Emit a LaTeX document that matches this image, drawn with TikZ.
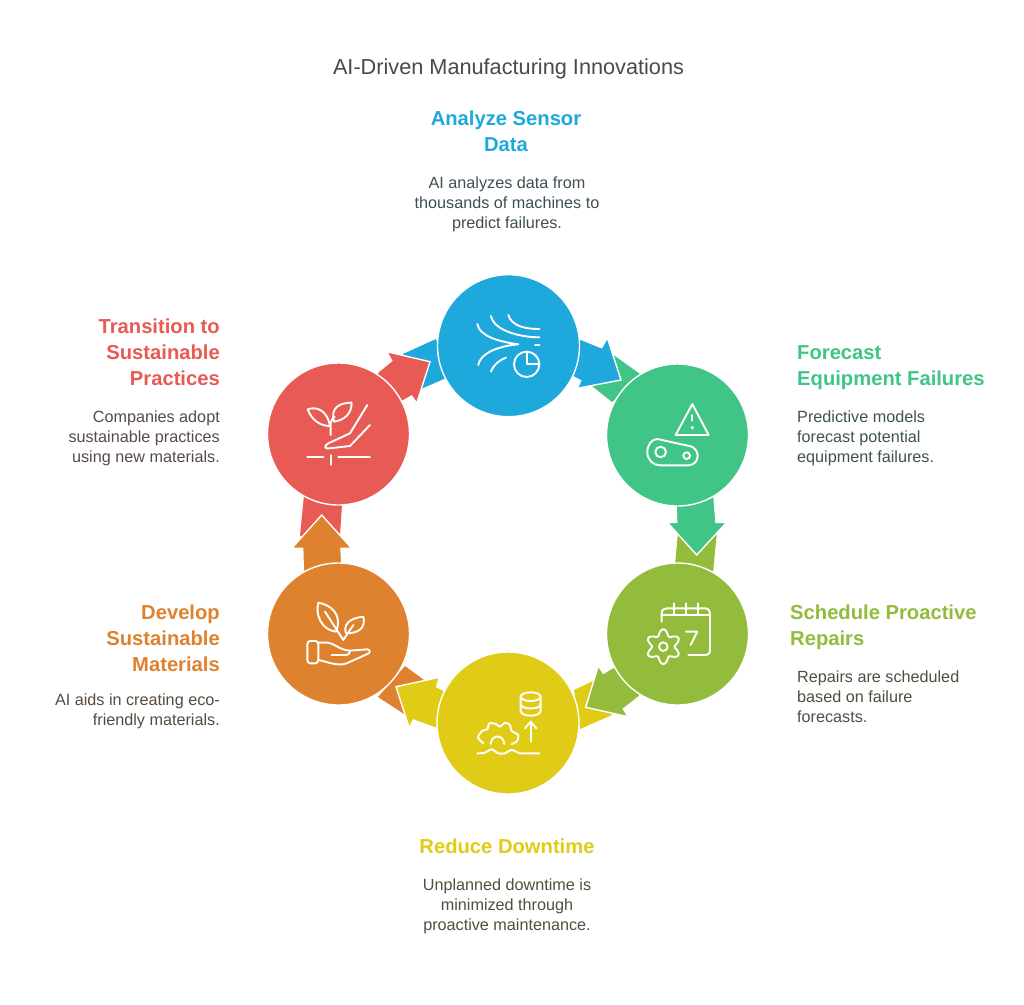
\documentclass[tikz,border=0pt]{standalone}
\usepackage{fontspec}
\setmainfont{Liberation Sans}
\definecolor{cblue}{HTML}{1EA8DC}
\definecolor{cgreen}{HTML}{40C586}
\definecolor{colive}{HTML}{93BB3C}
\definecolor{cyellow}{HTML}{E0CC16}
\definecolor{corange}{HTML}{DF822F}
\definecolor{cred}{HTML}{E85A54}
\definecolor{ctitle}{HTML}{4A4A4A}
\definecolor{tblue}{HTML}{3F4F55}
\definecolor{tgreen}{HTML}{3F5549}
\definecolor{tolive}{HTML}{4C5140}
\definecolor{tyellow}{HTML}{51503A}
\definecolor{torange}{HTML}{574B40}
\definecolor{tred}{HTML}{584A48}
\tikzset{
  hub/.style={circle,minimum size=142pt,inner sep=0pt,draw=white,line width=1.4pt},
  arrowband/.style={draw=white,line width=1.4pt,line join=miter},
  glyph/.style={draw=white,line width=1.9pt,line cap=round,line join=round},
  head/.style={font=\fontsize{20.2}{26}\selectfont\bfseries,inner sep=0pt},
  body/.style={font=\fontsize{16.2}{20}\selectfont,inner sep=0pt},
  zoomA/.style={shift={(#1)},x=0.3333pt,y=-0.3333pt}
}
\begin{document}
\begin{tikzpicture}[x=1pt,y=-1pt]
\useasboundingbox (0,0) rectangle (1024,1004);
\fill[white] (0,0) rectangle (1024,1004);
% tails
\fill[cblue] (403,354) -- (436,339) -- (446,378) -- (421,389) -- cycle;
\fill[cgreen] (612,354) -- (640,374) -- (612,402) -- (592,386) -- cycle;
\fill[colive] (678,532) -- (717,532) -- (713,572) -- (675,565) -- cycle;
\fill[cyellow] (574,690) -- (595,680) -- (612,715) -- (580,729) -- cycle;
\fill[corange] (405,666) -- (424,680) -- (404,714) -- (378,697) -- cycle;
\fill[cred] (304,495) -- (342,505) -- (340,535) -- (300,536) -- cycle;
% arrows
\path[fill=cblue,arrowband] (581,339.3) -- (601.7,347.7) -- (607.3,337.7) -- (621,380) -- (577.3,388.3) -- (580.7,380.7) -- (574,377.3) -- (520,346) -- cycle;
\path[fill=cgreen,arrowband] (676,505) -- (676.7,522.3) -- (667.3,522.3) -- (696.7,555) -- (726.7,522.3) -- (716,522.3) -- (714,497) -- (678,440) -- cycle;
\path[fill=colive,arrowband] (611.7,668.3) -- (603.3,673.3) -- (598.3,665.7) -- (585.7,707.3) -- (628.3,716.7) -- (623.3,709) -- (639,696.7) -- (678,634) -- cycle;
\path[fill=cyellow,arrowband] (443.3,690) -- (436.7,686.7) -- (439.3,677.3) -- (396,686.7) -- (409.3,728.3) -- (413.3,720) -- (436,728.3) -- (508,723) -- cycle;
\path[fill=corange,arrowband] (303.3,570) -- (302.7,548.3) -- (291.7,548.3) -- (321.7,515) -- (351.7,548.3) -- (341,548.3) -- (341.7,561.7) -- (339,634) -- cycle;
\path[fill=cred,arrowband] (378.3,371.7) -- (391.7,360.7) -- (386.7,351.7) -- (430,361.7) -- (416.7,403.3) -- (411.7,396) -- (401.7,401.7) -- (339,434) -- cycle;
% hubs
\node[hub,fill=cblue] (nblue) at (508.5,345.7) {};
\node[hub,fill=cgreen] (ngreen) at (677.5,435) {};
\node[hub,fill=colive] (nolive) at (677.5,634) {};
\node[hub,fill=cyellow] (nyellow) at (508,723) {};
\node[hub,fill=corange] (norange) at (338.5,634) {};
\node[hub,fill=cred] (nred) at (338.5,434) {};
% blue icon
\begin{scope}[zoomA={420,260},glyph]
\draw (172,192) .. controls (178,228) and (235,245) .. (295,253) .. controls (235,258) and (180,280) .. (175,315);
\draw (213,168) .. controls (222,212) and (300,232) .. (358,232);
\draw (265,165) .. controls (275,200) and (320,207) .. (358,207);
\draw (345,255) -- (358,255);
\draw (213,335) .. controls (218,318) and (235,302) .. (258,293);
\draw (320,313) circle[radius=38];
\draw (320,275) -- (320,313) -- (358,313);
\end{scope}
% green icon
\begin{scope}[zoomA={420,260},glyph]
\draw (817,432) -- (866,525) -- (767,525) -- cycle;
\draw (817,465) -- (817,482);
\fill[white] (817,503) circle[radius=5];
\draw (712,537) .. controls (695,537) and (682,555) .. (682,577) .. controls (682,600) and (700,616) .. (720,616) -- (805,616) .. controls (825,616) and (833,600) .. (833,587) .. controls (833,572) and (822,562) .. (812,559) -- cycle;
\draw (722,576) circle[radius=16];
\draw (800,587) circle[radius=10];
\end{scope}
% olive icon
\begin{scope}[zoomA={560,490},glyph]
\draw (305,395) -- (305,370) .. controls (305,360) and (312,355) .. (320,355) -- (435,355) .. controls (445,355) and (450,362) .. (450,370) -- (450,480) .. controls (450,490) and (445,495) .. (435,495) -- (385,495);
\draw (305,376) -- (450,376);
\draw (342,340) -- (342,372);
\draw (377,340) -- (377,372);
\draw (413,340) -- (413,372);
\draw (378,425) -- (412,425) -- (392,465);
\draw (310,470) circle[radius=13];
\draw plot[domain=0:360,samples=145,smooth] ({310+(43-9*cos(6*\x))*cos(\x)},{470+(43-9*cos(6*\x))*sin(\x)}) -- cycle;
\end{scope}
% yellow icon
\begin{scope}[zoomA={370,640},glyph]
\draw (482,170) ellipse[x radius=30,y radius=13];
\draw (452,170) -- (452,212) .. controls (452,232) and (512,232) .. (512,212) -- (512,170);
\draw (452,192) .. controls (452,210) and (512,210) .. (512,192);
\draw (482,305) -- (482,245);
\draw (465,265) -- (482,245) -- (499,265);
\draw plot[smooth] coordinates {(340,310) (324,292) (338,272) (352,268) (358,250) (378,252) (390,260) (405,248) (420,255) (425,273) (445,285) (440,305) (425,312)};
\draw (362,312) .. controls (365,282) and (400,282) .. (403,312);
\draw plot[smooth] coordinates {(322,340) (345,338) (365,328) (385,340) (405,340) (425,330) (450,340) (470,340) (508,340)};
\end{scope}
% orange icon
\begin{scope}[zoomA={260,490},glyph]
\draw (175,338) .. controls (215,345) and (248,375) .. (228,425) .. controls (185,420) and (165,375) .. (175,338);
\draw (310,380) .. controls (265,385) and (250,405) .. (258,430) .. controls (295,430) and (318,415) .. (310,380);
\draw (195,365) -- (250,450) -- (280,405);
\draw[rounded corners=3pt] (142,453) rectangle (175,520);
\draw (175,458) -- (205,458) .. controls (225,462) and (240,480) .. (270,482);
\draw (215,495) -- (258,495) .. controls (268,494) and (270,486) .. (270,482) -- (322,478) .. controls (332,480) and (332,488) .. (322,492) -- (260,520) .. controls (235,530) and (200,515) .. (175,510);
\end{scope}
% red icon
\begin{scope}[zoomA={260,320},glyph]
\draw (142,412) -- (190,412);
\draw (235,412) -- (330,412);
\draw (212,405) -- (212,435);
\draw (212,345) -- (212,310) .. controls (213,300) and (218,295) .. (224,290);
\draw (143,268) .. controls (165,260) and (200,265) .. (210,318) .. controls (180,318) and (155,300) .. (143,268);
\draw (275,248) .. controls (240,248) and (210,262) .. (222,305) .. controls (255,300) and (275,280) .. (275,248);
\draw (322,255) -- (270,340) -- (205,370) .. controls (190,378) and (195,388) .. (208,385) -- (270,378) -- (330,315);
\end{scope}
% texts
\node[font=\fontsize{21.7}{26}\selectfont,text=ctitle,inner sep=0pt] (title) at (508.5,68.5) {AI-Driven Manufacturing Innovations};
\node[head,text=cblue,align=center] (hblue) at (506,131) {Analyze Sensor\\Data};
\node[body,text=tblue,align=center] (bblue) at (507,204.5) {AI analyzes data from\\thousands of machines to\\predict failures.};
\node[head,text=cgreen,align=left,anchor=west] (hgreen) at (797,368) {Forecast\\Equipment Failures};
\node[body,text=tgreen,align=left,anchor=west] (bgreen) at (797,438) {Predictive models\\forecast potential\\equipment failures.};
\node[head,text=colive,align=left,anchor=west] (holive) at (790,627) {Schedule Proactive\\Repairs};
\node[body,text=tolive,align=left,anchor=west] (bolive) at (797,697) {Repairs are scheduled\\based on failure\\forecasts.};
\node[head,text=cyellow,align=center] (hyellow) at (507,846) {Reduce Downtime};
\node[body,text=tyellow,align=center] (byellow) at (507,906) {Unplanned downtime is\\minimized through\\proactive maintenance.};
\node[head,text=corange,align=right,anchor=east] (horange) at (220,638) {Develop\\Sustainable\\Materials};
\node[body,text=torange,align=right,anchor=east] (borange) at (220,711) {AI aids in creating eco-\\friendly materials.};
\node[head,text=cred,align=right,anchor=east] (hred) at (220,352) {Transition to\\Sustainable\\Practices};
\node[body,text=tred,align=right,anchor=east] (bred) at (220,438) {Companies adopt\\sustainable practices\\using new materials.};
\end{tikzpicture}
\end{document}
